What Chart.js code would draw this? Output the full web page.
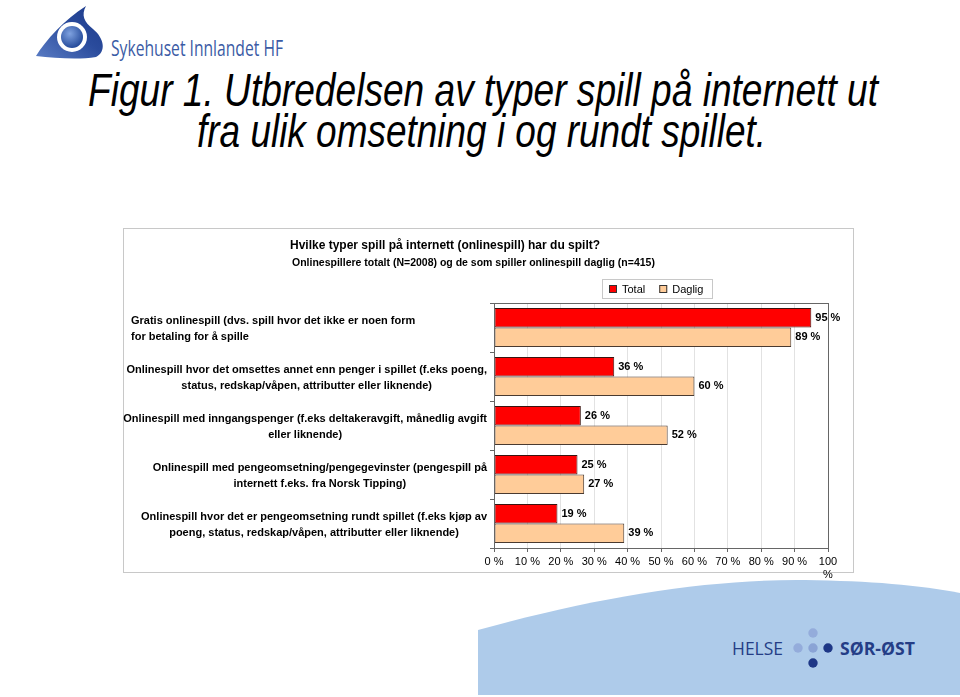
<!DOCTYPE html>
<html>
<head>
<meta charset="utf-8">
<style>
  body { margin: 0; background: #fff; }
  #slide { position: relative; width: 960px; height: 697px; overflow: hidden; background: #fff; }
  #deco { position: absolute; left: 0; top: 0; }
  .chart-box {
    position: absolute; left: 123px; top: 228px;
    width: 729px; height: 343px;
    border: 1px solid #c8c8c8;
  }
  #gameChart { position: absolute; left: 123px; top: 228px; }
</style>
<script src="https://cdn.jsdelivr.net/npm/chart.js"></script>
</head>
<body>
<div id="slide">
  <svg id="deco" width="960" height="697" xmlns="http://www.w3.org/2000/svg">
    <defs>
      <linearGradient id="eyeGrad" x1="0" y1="1" x2="1" y2="0">
        <stop offset="0" stop-color="#5a7cc4"/>
        <stop offset="0.55" stop-color="#2a4b9c"/>
        <stop offset="1" stop-color="#1c3a8a"/>
      </linearGradient>
      <radialGradient id="ballGrad" cx="0.4" cy="0.35" r="0.7">
        <stop offset="0" stop-color="#7fa2e0"/>
        <stop offset="1" stop-color="#1f4596"/>
      </radialGradient>
    </defs>
    <!-- Sykehuset Innlandet logo -->
    <path d="M36,56 C46,40 64,20 86,6 C81,15 84,22 93,29 C105,39 106,52 96,57 C78,60 55,58 36,56 Z" fill="url(#eyeGrad)"/>
    <circle cx="72" cy="37" r="15" fill="#fff"/>
    <circle cx="72" cy="37" r="11" fill="url(#ballGrad)"/>
    <text x="111" y="56" textLength="172" lengthAdjust="spacingAndGlyphs" font-family="'Open Sans', sans-serif" font-size="21" fill="#3b5ba5">Sykehuset Innlandet HF</text>

    <!-- slide title -->
    <text x="88" y="106" textLength="790" lengthAdjust="spacingAndGlyphs" font-family="'Liberation Sans', Arial, sans-serif" font-style="italic" font-size="46" fill="#000">Figur 1. Utbredelsen av typer spill på internett ut</text>
    <text x="197" y="147" textLength="569" lengthAdjust="spacingAndGlyphs" font-family="'Liberation Sans', Arial, sans-serif" font-style="italic" font-size="46" fill="#000">fra ulik omsetning i og rundt spillet.</text>

    <!-- footer swoosh + Helse Sør-Øst -->
    <path d="M478,695 L478,630 C600,596 710,579 805,580 C870,581 920,585 960,593 L960,695 Z" fill="#aecbea"/>
    <text x="732" y="655" textLength="51" lengthAdjust="spacingAndGlyphs" font-family="'Open Sans', sans-serif" font-size="18" fill="#243d86">HELSE</text>
    <circle cx="813" cy="633" r="4.7" fill="#94acdb"/>
    <circle cx="798" cy="648" r="4.7" fill="#94acdb"/>
    <circle cx="813" cy="648" r="4.7" fill="#8aa3d5"/>
    <circle cx="828" cy="648" r="4.7" fill="#1e3786"/>
    <circle cx="813" cy="663" r="4.7" fill="#1e3786"/>
    <text x="840" y="655" textLength="75" lengthAdjust="spacingAndGlyphs" font-family="'Open Sans', sans-serif" font-weight="bold" font-size="18" fill="#243d86">SØR-ØST</text>
  </svg>

  <div class="chart-box"></div>
  <canvas id="gameChart" width="730" height="360"></canvas>
</div>

<script>
  // --- data ---
  const categories = [
    ['Gratis onlinespill (dvs. spill hvor det ikke er noen form', 'for betaling for å spille'],
    ['Onlinespill hvor det omsettes annet enn penger i spillet (f.eks poeng,', 'status, redskap/våpen, attributter eller liknende)'],
    ['Onlinespill med inngangspenger (f.eks deltakeravgift, månedlig avgift', 'eller liknende)'],
    ['Onlinespill med pengeomsetning/pengegevinster (pengespill på', 'internett f.eks. fra Norsk Tipping)'],
    ['Onlinespill hvor det er pengeomsetning rundt spillet (f.eks kjøp av', 'poeng, status, redskap/våpen, attributter eller liknende)']
  ];
  const seriesNames = ['Total', 'Daglig'];
  const totalValues = [95, 36, 26, 25, 19];
  const dailyValues = [89, 60, 52, 27, 39];
  const xTickLabels = ['0 %', '10 %', '20 %', '30 %', '40 %', '50 %', '60 %', '70 %', '80 %', '90 %', ['100', '%']];
  const chartTitle = 'Hvilke typer spill på internett (onlinespill) har du spilt?';
  const chartSubtitle = 'Onlinespillere totalt (N=2008) og de som spiller onlinespill daglig (n=415)';

  const FAMILY = '"Liberation Sans", Arial, sans-serif';
  Chart.defaults.font.family = FAMILY;
  Chart.defaults.color = '#000';

  const AXIS = '#666';

  // plot frame, chart title and bordered legend
  const frame = {
    id: 'frame',
    afterDraw(chart) {
      const ctx = chart.ctx;
      const a = chart.chartArea;
      ctx.save();
      ctx.strokeStyle = AXIS;
      ctx.lineWidth = 1;
      ctx.strokeRect(Math.round(a.left) + 0.5, Math.round(a.top) + 0.5,
                     Math.round(a.right - a.left), Math.round(a.bottom - a.top));

      ctx.fillStyle = '#000';
      ctx.textBaseline = 'middle';
      ctx.textAlign = 'left';
      ctx.font = 'bold 12px ' + FAMILY;
      ctx.fillText(chartTitle, 167, 18);
      ctx.font = 'bold 10.5px ' + FAMILY;
      ctx.fillText(chartSubtitle, 169, 35);

      // legend
      ctx.font = '11px ' + FAMILY;
      const bx = 479, by = 51, bh = 19;
      let x = bx + 7;
      const items = chart.data.datasets.map(ds => ({ label: ds.label, color: ds.backgroundColor }));
      const parts = [];
      items.forEach((it, i) => {
        parts.push({ x, it });
        x += 8 + 5 + ctx.measureText(it.label).width + (i < items.length - 1 ? 14 : 9);
      });
      ctx.strokeStyle = '#c8c8c8';
      ctx.strokeRect(bx + 0.5, by + 0.5, Math.round(x - bx), bh);
      parts.forEach(p => {
        ctx.fillStyle = p.it.color;
        ctx.fillRect(p.x, by + 6, 8, 8);
        ctx.strokeStyle = '#333';
        ctx.strokeRect(p.x + 0.5, by + 6.5, 7, 7);
        ctx.fillStyle = '#000';
        ctx.fillText(p.it.label, p.x + 13, by + 10.5);
      });
      ctx.restore();
    }
  };

  // multi-line category labels, each block right-aligned, lines centred in it
  const categoryLabels = {
    id: 'categoryLabels',
    afterDraw(chart) {
      const ctx = chart.ctx;
      const yScale = chart.scales.y;
      const right = chart.chartArea.left - 7;
      ctx.save();
      ctx.font = 'bold 11px ' + FAMILY;
      ctx.fillStyle = '#000';
      ctx.textBaseline = 'middle';
      categories.forEach((lines, i) => {
        const cy = yScale.getPixelForValue(i) + 1.5;
        const blockW = Math.max(...lines.map(l => ctx.measureText(l).width));
        lines.forEach((line, j) => {
          const ly = cy + (j - (lines.length - 1) / 2) * 16;
          if (i === 0) {
            ctx.textAlign = 'left';
            ctx.fillText(line, 8, ly);
          } else {
            ctx.textAlign = 'center';
            ctx.fillText(line, right - blockW / 2, ly);
          }
        });
      });
      ctx.restore();
    }
  };

  // value labels at bar ends
  const valueLabels = {
    id: 'valueLabels',
    afterDatasetsDraw(chart) {
      const ctx = chart.ctx;
      ctx.save();
      ctx.font = 'bold 11px ' + FAMILY;
      ctx.fillStyle = '#000';
      ctx.textBaseline = 'middle';
      ctx.textAlign = 'left';
      chart.data.datasets.forEach((ds, di) => {
        chart.getDatasetMeta(di).data.forEach((bar, i) => {
          ctx.fillText(ds.data[i] + ' %', bar.x + 4, bar.y);
        });
      });
      ctx.restore();
    }
  };

  const ctx = document.getElementById('gameChart').getContext('2d');
  new Chart(ctx, {
    type: 'bar',
    data: {
      labels: categories,
      datasets: [{
        label: seriesNames[0],
        data: totalValues,
        backgroundColor: '#ff0000',
        borderColor: '#3a1410',
        borderWidth: 1,
        borderSkipped: false
      }, {
        label: seriesNames[1],
        data: dailyValues,
        backgroundColor: '#ffcc99',
        borderColor: '#4a3a30',
        borderWidth: 1,
        borderSkipped: false
      }]
    },
    options: {
      indexAxis: 'y',
      responsive: false,
      animation: false,
      categoryPercentage: 0.8,
      barPercentage: 1.0,
      layout: { padding: { top: 75, right: 25, bottom: 0, left: 0 } },
      plugins: {
        legend: { display: false },
        title: { display: false },
        tooltip: { enabled: false }
      },
      scales: {
        x: {
          min: 0,
          max: 100,
          ticks: {
            stepSize: 10,
            padding: 3,
            font: { size: 11 },
            color: '#000',
            callback: (v, i) => xTickLabels[i]
          },
          grid: { color: '#e2e2e2', tickColor: AXIS, tickLength: 4 },
          border: { display: false },
          afterFit: s => { s.height = 40; }
        },
        y: {
          ticks: { display: false },
          grid: { drawOnChartArea: false, tickColor: AXIS, tickLength: 4, offset: true },
          border: { display: false },
          afterFit: s => { s.width = 371; }
        }
      }
    },
    plugins: [frame, categoryLabels, valueLabels]
  });
</script>
</body>
</html>
